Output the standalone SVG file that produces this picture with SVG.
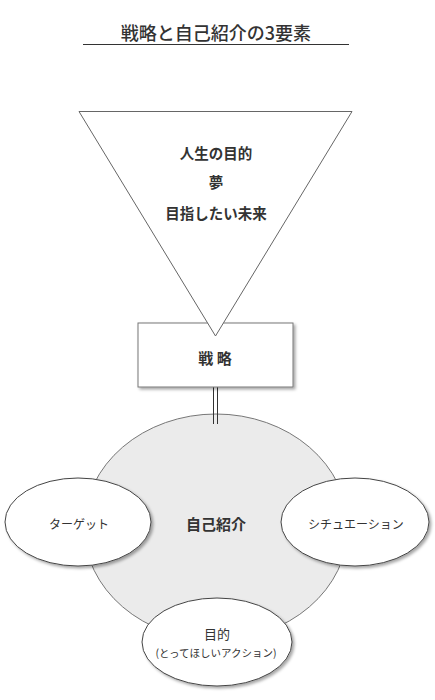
<svg xmlns="http://www.w3.org/2000/svg" width="435" height="700" viewBox="0 0 435 700">
<defs>
<filter id="sh" x="-10%" y="-10%" width="130%" height="130%">
<feDropShadow dx="2" dy="2" stdDeviation="1.5" flood-color="#000" flood-opacity="0.35"/>
</filter>
<style>
text{font-family:"Noto Sans CJK JP","Noto Sans",sans-serif;fill:#333;text-anchor:middle;dominant-baseline:central}
.title{font-size:18px;font-weight:500}
.tri{font-size:14.5px;font-weight:700}
.lbl{font-size:12px}
.ell{fill:#fff;stroke:#444;stroke-width:1;filter:url(#sh)}
</style>
</defs>
<rect width="435" height="700" fill="#fff"/>
<g id="title">
<text class="title" x="216" y="32">戦略と自己紹介の3要素</text>
<line x1="83" y1="44.5" x2="349" y2="44.5" stroke="#333" stroke-width="1.2"/>
</g>
<g id="self-intro">
<ellipse cx="216" cy="527" rx="132" ry="113" fill="#ebebeb" stroke="#777" stroke-width="1"/>
<text x="216" y="523" style="font-size:15px;font-weight:700">自己紹介</text>
</g>
<g id="connectors">
<line x1="213.5" y1="387" x2="213.5" y2="424" stroke="#333" stroke-width="1"/>
<line x1="217.5" y1="387" x2="217.5" y2="424" stroke="#333" stroke-width="1"/>
</g>
<g id="strategy">
<rect x="138" y="323" width="155" height="64" fill="#fff" stroke="#777" stroke-width="1" filter="url(#sh)"/>
<text x="215" y="357" style="font-size:15px;font-weight:700">戦 略</text>
</g>
<g id="purpose-triangle">
<polygon points="79,111.5 352,111.5 215.5,336" fill="#fff" stroke="#666" stroke-width="1"/>
<text class="tri" x="216" y="152">人生の目的</text>
<text class="tri" x="216" y="181">夢</text>
<text class="tri" x="216" y="212">目指したい未来</text>
</g>
<g id="target">
<ellipse class="ell" cx="78" cy="522" rx="73" ry="44"/>
<text class="lbl" x="79" y="523">ターゲット</text>
</g>
<g id="situation">
<ellipse class="ell" cx="355" cy="522" rx="74" ry="44"/>
<text class="lbl" x="356" y="523">シチュエーション</text>
</g>
<g id="goal">
<ellipse class="ell" cx="217" cy="642" rx="75" ry="44"/>
<text x="217" y="633" style="font-size:13px">目的</text>
<text x="216" y="652" style="font-size:10.5px">(とってほしいアクション)</text>
</g>
</svg>
